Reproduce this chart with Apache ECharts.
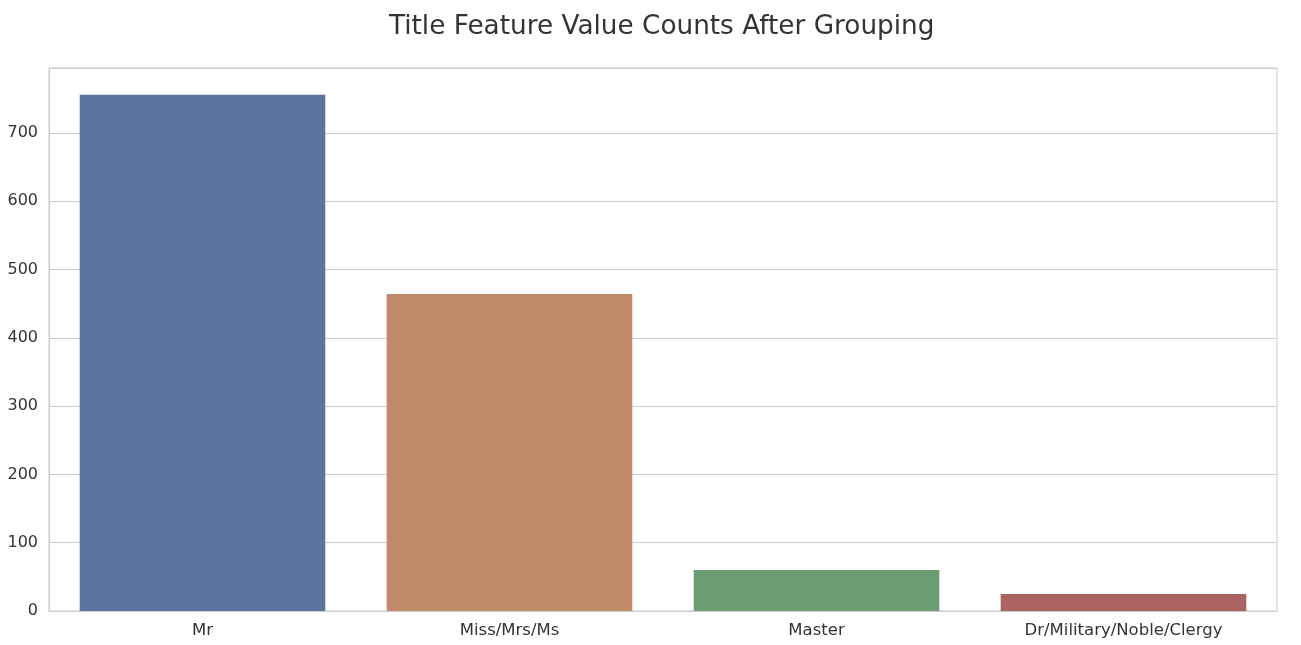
<!DOCTYPE html>
<html>
<head>
<meta charset="utf-8">
<script src="https://cdn.jsdelivr.net/npm/echarts@6/dist/echarts.min.js"></script>
<style>html,body{margin:0;padding:0;background:#fff}#c{width:1301px;height:645px}</style>
</head>
<body>
<div id="c"></div>
<script>
const categories = ["Mr", "Miss/Mrs/Ms", "Master", "Dr/Military/Noble/Clergy"];
const counts = [756, 464, 60, 25];
const barColors = ["#5e74a0", "#c18b69", "#6b9d72", "#aa6361"];
const yTicks = [0, 100, 200, 300, 400, 500, 600, 700];
const titleText = "Title Feature Value Counts After Grouping";

const chart = echarts.init(document.getElementById('c'));
chart.setOption({
  animation: false,
  backgroundColor: '#ffffff',
  title: {
    text: titleText, left: 384, top: 9,
    textStyle: { fontFamily: 'DejaVu Sans', fontSize: 26.3, fontWeight: 'normal', color: '#333333' }
  },
  grid: { left: 49, right: 24, top: 68, bottom: 34, show: true, borderColor: '#cccccc', borderWidth: 1, containLabel: false },
  xAxis: {
    type: 'category', data: categories,
    axisLine: { show: true, lineStyle: { color: '#cccccc', width: 1 } },
    axisTick: { show: false },
    axisLabel: { fontFamily: 'DejaVu Sans', fontSize: 16.5, color: '#333333', margin: 11 }
  },
  yAxis: {
    type: 'value', min: 0, max: 795, interval: 100,
    axisLine: { show: true, lineStyle: { color: '#cccccc', width: 1 } },
    axisTick: { show: false },
    splitLine: { show: true, lineStyle: { color: '#cccccc', width: 1 } },
    axisLabel: { fontFamily: 'DejaVu Sans', fontSize: 16, color: '#333333', margin: 11, showMaxLabel: false,
      formatter: v => yTicks.includes(v) ? String(v) : '' }
  },
  series: [{
    type: 'bar', barWidth: '80%',
    data: counts.map((v, i) => ({ value: v, itemStyle: { color: barColors[i] } }))
  }]
});
</script>
</body>
</html>
